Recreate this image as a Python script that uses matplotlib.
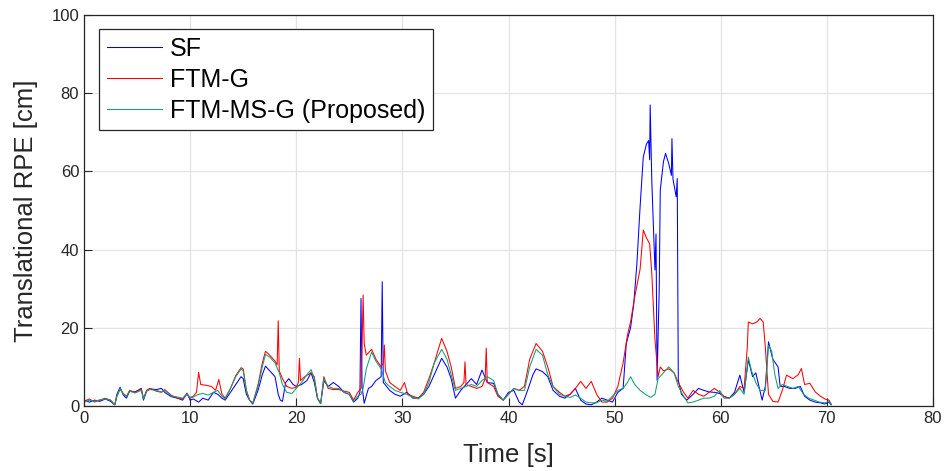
import matplotlib
matplotlib.use("Agg")
import matplotlib.pyplot as plt

plt.rcParams['font.family'] = ['Liberation Sans', 'DejaVu Sans']

# ---- data ----
sf_t = [0, 0.5, 1, 1.5, 2, 2.5, 2.9, 3.1, 3.4, 3.7, 4.0, 4.3, 4.8, 5.4, 5.6, 5.9, 6.2, 6.8, 7.3, 7.6,
        8.2, 8.8, 9.3, 9.7, 10.0, 10.3, 10.8, 11.2, 11.7, 12.2, 12.6, 13.0, 13.3, 13.8, 14.3, 14.8, 15.0,
        15.3, 15.6, 15.9, 16.4, 16.8, 17.1, 17.5, 18.0, 18.3, 18.5, 18.7, 19.0, 19.3, 19.7, 20.0, 20.5,
        21.0, 21.4, 21.7, 22.0, 22.3, 22.6, 23.0, 23.5, 24.0, 24.5, 25.0, 25.4, 25.8, 26.0, 26.1, 26.2,
        26.4, 26.8, 27.1, 27.5, 28.0, 28.1, 28.2, 28.4, 28.8, 29.3, 29.8, 30.4, 31.0, 31.5, 32.0, 32.5,
        33.0, 33.7, 34.2, 34.6, 35.0, 35.5, 36.0, 36.5, 37.0, 37.5, 38.0, 38.6, 39.0, 39.5, 40.0, 40.5,
        41.0, 41.3, 41.8, 42.3, 42.6, 43.2, 43.7, 44.2, 44.8, 45.3, 45.8, 46.3, 46.8, 47.3, 47.8, 48.3,
        48.8, 49.3, 49.8, 50.3, 50.8, 51.1, 51.5, 51.8, 52.1, 52.4, 52.7, 53.0, 53.2, 53.3, 53.35, 53.5,
        53.7, 53.8, 53.9, 54.0, 54.2, 54.3, 54.6, 54.8, 55.1, 55.35, 55.4, 55.5, 55.8, 55.9, 56.0, 56.3,
        56.8, 57.4, 57.9, 58.4, 58.9, 59.4, 59.9, 60.3, 60.8, 61.3, 61.8, 62.2, 62.6, 63.0, 63.3, 63.9,
        64.2, 64.5, 64.9, 65.4, 65.6, 66.0, 66.5, 67.0, 67.5, 67.9, 68.4, 68.9, 69.4, 69.8, 70.2, 70.4]
sf_v = [1.5, 1.0, 1.5, 1.2, 1.8, 1.2, 0.3, 3.0, 4.8, 2.8, 2.0, 3.8, 3.6, 4.5, 1.5, 3.8, 4.4, 4.2, 4.5, 3.5,
        2.4, 2.0, 1.5, 3.3, 1.5, 1.8, 1.0, 2.0, 1.5, 3.5, 3.0, 2.0, 1.5, 3.5, 5.5, 7.5, 7.0,
        3.0, 1.5, 0.5, 4.0, 8.0, 10.2, 9.0, 7.5, 3.0, 1.5, 1.2, 6.0, 7.0, 5.5, 5.0, 5.5,
        6.5, 8.5, 6.0, 2.0, 0.6, 6.5, 5.0, 6.0, 5.0, 3.5, 3.0, 1.0, 2.0, 3.5, 27.5, 5.0,
        0.7, 4.5, 5.0, 6.5, 7.5, 31.8, 6.0, 5.4, 4.0, 3.0, 2.5, 3.5, 2.0, 2.0, 3.0, 5.0,
        8.0, 12.2, 10.0, 7.0, 2.0, 4.0, 5.5, 7.0, 5.5, 9.2, 6.0, 5.8, 3.0, 1.5, 3.5, 4.0,
        1.0, 0.3, 4.0, 8.0, 9.5, 8.8, 7.5, 4.0, 2.5, 2.0, 3.0, 4.5, 1.5, 0.5, 0.3, 1.0,
        2.0, 1.5, 1.0, 3.5, 4.5, 16.0, 20.0, 26.0, 36.5, 51.0, 63.7, 67.0, 67.9, 63.0, 77.0, 57.8,
        42.5, 34.8, 44.0, 6.6, 29.7, 55.2, 62.5, 64.6, 62.0, 59.0, 68.4, 58.0, 53.5, 58.2, 6.6, 3.0,
        1.5, 3.0, 4.5, 4.0, 3.6, 3.5, 3.2, 2.4, 2.0, 3.5, 7.9, 3.5, 11.8, 7.5, 8.5, 1.5,
        5.0, 16.4, 12.0, 10.0, 5.0, 5.0, 4.5, 4.5, 5.0, 2.5, 1.5, 1.0, 0.8, 0.5, 1.0, 0.3]

ftmg_t = [0, 0.5, 1, 1.5, 2, 2.5, 2.9, 3.1, 3.4, 3.7, 4.0, 4.3, 4.8, 5.4, 5.6, 5.9, 6.2, 6.8, 7.3, 7.6,
          8.2, 8.8, 9.3, 9.7, 10.0, 10.3, 10.6, 10.8, 11.0, 11.5, 12.0, 12.4, 12.7, 13.0, 13.3, 13.8,
          14.3, 14.8, 15.0, 15.3, 15.6, 15.9, 16.4, 16.8, 17.1, 17.5, 18.0, 18.2, 18.3, 18.4, 18.7,
          19.1, 19.6, 20.0, 20.2, 20.3, 20.4, 20.8, 21.4, 21.7, 22.0, 22.3, 22.6, 23.0, 23.5, 24.0,
          24.5, 25.0, 25.4, 25.8, 26.1, 26.2, 26.3, 26.4, 26.6, 27.1, 27.5, 28.0, 28.2, 28.3, 28.4,
          28.8, 29.3, 29.8, 30.2, 30.5, 31.0, 31.5, 32.0, 32.5, 33.0, 33.7, 34.2, 34.6, 35.0, 35.5,
          35.8, 35.9, 36.0, 36.5, 37.0, 37.5, 37.8, 37.9, 38.0, 38.6, 39.0, 39.5, 40.0, 40.5, 41.0,
          41.5, 42.0, 42.6, 43.2, 43.7, 44.2, 44.8, 45.3, 45.8, 46.3, 46.8, 47.3, 47.8, 48.3, 48.8,
          49.3, 49.8, 50.3, 50.8, 51.2, 51.5, 51.9, 52.4, 52.7, 53.0, 53.3, 53.5, 53.8, 54.1, 54.3,
          54.6, 55.1, 55.6, 56.0, 56.5, 56.9, 57.4, 57.9, 58.4, 58.9, 59.4, 59.9, 60.3, 60.8, 61.3,
          61.8, 62.2, 62.5, 62.6, 63.0, 63.4, 63.7, 64.0, 64.2, 64.5, 64.9, 65.4, 65.8, 66.2, 66.8,
          67.3, 67.6, 67.9, 68.4, 68.9, 69.4, 69.8, 70.2, 70.4]
ftmg_v = [1.2, 1.8, 1.0, 1.5, 2.0, 1.5, 0.3, 2.5, 4.3, 3.2, 2.5, 4.0, 3.5, 4.3, 2.0, 4.0, 4.5, 3.8, 3.5, 4.2,
          2.8, 2.0, 1.8, 3.0, 2.2, 2.5, 3.5, 8.6, 5.5, 5.3, 5.0, 4.0, 6.8, 3.0, 2.0, 4.5,
          7.8, 9.8, 9.5, 4.0, 1.5, 0.6, 5.5, 11.0, 14.0, 13.0, 11.5, 10.5, 21.8, 9.0, 7.0,
          5.0, 4.5, 4.8, 6.0, 12.2, 6.5, 7.5, 8.5, 7.5, 2.0, 0.6, 7.5, 4.5, 4.2, 4.2,
          3.8, 3.5, 1.5, 3.5, 4.5, 15.0, 28.4, 16.0, 13.0, 14.5, 12.0, 10.0, 11.0, 15.6, 9.0,
          6.0, 5.0, 4.0, 6.0, 3.0, 2.5, 2.0, 3.5, 7.0, 11.0, 17.3, 14.0, 10.0, 4.5, 5.0,
          6.0, 11.3, 5.5, 5.0, 4.5, 5.0, 7.0, 14.8, 6.0, 5.0, 2.5, 1.5, 3.0, 4.5, 4.0,
          5.0, 12.0, 16.0, 14.0, 10.0, 5.0, 3.5, 2.5, 3.0, 4.5, 6.3, 4.5, 6.3, 3.0, 1.0,
          1.0, 2.0, 5.0, 11.0, 18.0, 21.5, 28.0, 35.0, 45.0, 43.0, 41.5, 34.0, 17.0, 7.5, 10.0,
          9.0, 9.5, 8.5, 6.0, 3.5, 2.0, 4.0, 3.0, 2.5, 3.5, 4.5, 3.5, 2.5, 2.0, 3.0,
          5.0, 4.5, 15.0, 21.5, 21.0, 21.5, 22.4, 21.5, 15.0, 3.0, 1.2, 1.0, 4.0, 7.9, 7.0,
          8.0, 9.6, 5.5, 5.8, 3.6, 2.5, 1.8, 1.5, 0.5]

ftmmsg_t = [0, 0.5, 1, 1.5, 2, 2.5, 2.9, 3.1, 3.4, 3.7, 4.0, 4.3, 4.8, 5.4, 5.6, 5.9, 6.2, 6.8, 7.3, 7.6,
            8.2, 8.8, 9.3, 9.7, 10.0, 10.3, 10.8, 11.2, 11.7, 12.2, 12.6, 13.0, 13.3, 13.8, 14.3, 14.8,
            15.0, 15.3, 15.6, 15.9, 16.4, 16.8, 17.1, 17.5, 18.0, 18.4, 18.7, 19.1, 19.6, 20.0, 20.5,
            21.0, 21.4, 21.7, 22.0, 22.3, 22.6, 23.0, 23.5, 24.0, 24.5, 25.0, 25.4, 25.8, 26.1, 26.3,
            26.6, 27.1, 27.5, 28.0, 28.4, 28.8, 29.3, 29.8, 30.4, 31.0, 31.5, 32.0, 32.5, 33.0, 33.7,
            34.2, 34.6, 35.0, 35.5, 36.0, 36.5, 37.0, 37.5, 38.0, 38.6, 39.0, 39.5, 40.0, 40.5, 41.0,
            41.5, 42.0, 42.6, 43.2, 43.7, 44.2, 44.8, 45.3, 45.8, 46.3, 46.8, 47.3, 47.8, 48.3, 48.8,
            49.3, 49.8, 50.3, 50.8, 51.2, 51.5, 51.9, 52.4, 52.9, 53.4, 53.8, 54.1, 54.6, 55.1, 55.6,
            56.0, 56.5, 56.9, 57.4, 57.9, 58.4, 58.9, 59.4, 59.9, 60.3, 60.8, 61.3, 61.8, 62.2, 62.6,
            62.9, 63.3, 63.7, 64.2, 64.5, 64.8, 65.1, 65.4, 65.8, 66.3, 66.8, 67.3, 67.8, 68.3, 68.8,
            69.3, 69.8, 70.2, 70.4]
ftmmsg_v = [1.0, 1.5, 1.2, 1.6, 1.8, 1.5, 0.3, 2.5, 4.5, 3.0, 2.4, 3.8, 3.3, 4.0, 1.8, 3.8, 4.2, 4.0, 3.6, 4.0,
            2.6, 2.3, 2.0, 3.2, 2.0, 2.3, 3.0, 3.2, 2.8, 3.5, 4.0, 2.5, 1.8, 4.5, 7.5, 9.5,
            9.0, 4.0, 1.5, 0.8, 5.0, 10.0, 13.2, 12.5, 11.0, 8.5, 5.5, 3.5, 3.2, 4.5, 6.0,
            8.0, 9.3, 7.0, 2.0, 0.6, 7.0, 5.0, 4.5, 4.5, 3.5, 3.0, 1.2, 2.5, 3.0, 4.5,
            9.5, 13.8, 11.5, 9.5, 6.0, 5.0, 4.0, 3.5, 3.0, 2.2, 1.8, 3.0, 6.0, 11.0, 14.5,
            12.0, 8.0, 4.0, 4.5, 5.0, 5.5, 5.0, 6.5, 7.5, 6.5, 3.0, 1.5, 3.0, 4.5, 4.0,
            4.0, 10.0, 14.5, 13.0, 8.0, 5.0, 3.0, 2.5, 2.2, 2.8, 2.0, 1.0, 0.8, 0.8, 1.5,
            1.2, 2.5, 4.0, 4.5, 6.0, 7.5, 5.5, 4.0, 3.0, 2.2, 3.0, 7.0, 8.5, 10.0, 8.5,
            5.0, 2.5, 0.8, 1.0, 1.5, 2.0, 2.0, 2.5, 4.0, 2.0, 2.0, 3.0, 4.5, 3.0, 12.5,
            9.0, 6.0, 4.0, 4.0, 15.5, 14.0, 8.0, 4.5, 5.5, 5.0, 4.5, 5.0, 3.0, 2.0, 1.5,
            1.0, 0.8, 1.2, 0.5]

x_ticks = [0, 10, 20, 30, 40, 50, 60, 70, 80]
y_ticks = [0, 20, 40, 60, 80, 100]
labels = ['SF', 'FTM-G', 'FTM-MS-G (Proposed)']
colors = ['#0000ff', '#ff0000', '#13a074']

fig = plt.figure(figsize=(9.45, 4.71), dpi=100)
ax = fig.add_axes([0.0889, 0.138, 0.8984, 0.830])

ax.plot(sf_t, sf_v, color=colors[0], lw=0.75, label=labels[0])
ax.plot(ftmg_t, ftmg_v, color=colors[1], lw=0.75, label=labels[1])
ax.plot(ftmmsg_t, ftmmsg_v, color=colors[2], lw=0.75, label=labels[2])

ax.set_xlim(0, 80)
ax.set_ylim(0, 100)
ax.set_xticks(x_ticks)
ax.set_yticks(y_ticks)
ax.grid(True, color='#e3e3e3', lw=0.9)
ax.set_axisbelow(True)
axis_col = '#262626'
for s in ax.spines.values():
    s.set_color(axis_col)
    s.set_linewidth(0.9)
ax.tick_params(direction='in', length=6, width=0.8, colors=axis_col, labelsize=12,
               top=False, right=False)
ax.set_xlabel('Time [s]', fontsize=18.5, color=axis_col, labelpad=12)
ax.set_ylabel('Translational RPE [cm]', fontsize=18.5, color=axis_col, labelpad=10)

leg = ax.legend(loc='upper left', bbox_to_anchor=(0.0177, 0.964), borderaxespad=0,
                fontsize=18, fancybox=False, framealpha=1, edgecolor='#262626',
                handlelength=2.2, handletextpad=0.35, labelspacing=0.28, borderpad=0.3)
leg.get_frame().set_linewidth(0.9)
for t in leg.get_texts():
    t.set_color('black')

fig.savefig('out.png', dpi=100)
